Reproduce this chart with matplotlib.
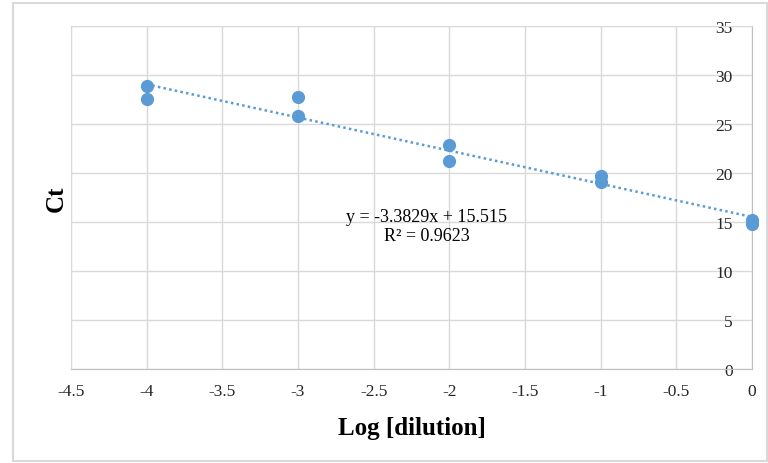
import matplotlib.pyplot as plt
from matplotlib.patches import Rectangle

# qPCR standard curve: Ct vs log dilution (two replicates per dilution)
log_dilution = [-4, -4, -3, -3, -2, -2, -1, -1, 0, 0]
ct_values = [28.9, 27.55, 27.8, 25.8, 22.85, 21.25, 19.65, 19.05, 15.2, 14.75]

# trendline shown on the chart
slope = -3.3829
intercept = 15.515
r_squared = 0.9623
trend_x = [-4, 0]

x_ticks = [-4.5, -4, -3.5, -3, -2.5, -2, -1.5, -1, -0.5, 0]
y_ticks = [0, 5, 10, 15, 20, 25, 30, 35]

blue = "#5B9BD5"
grid_gray = "#d9d9d9"

plt.rcParams["font.family"] = ["Liberation Serif", "DejaVu Serif"]

fig = plt.figure(figsize=(7.68, 4.64), dpi=100)
ax = fig.add_axes([71 / 768, 1 - 370 / 464, (752 - 71) / 768, (370 - 27) / 464])

# chart border
fig.patches.append(Rectangle((13 / 768, 2 / 464), 754 / 768, 458 / 464,
                             transform=fig.transFigure, fill=False,
                             edgecolor=grid_gray, linewidth=1.5))

trend_y = [slope * x + intercept for x in trend_x]
ax.plot(trend_x, trend_y, color=blue, linewidth=1.8, linestyle=(0, (1, 1.3)), zorder=2)
ax.plot(log_dilution, ct_values, "o", color=blue, markersize=8.5, clip_on=False, zorder=3)

ax.set_xlim(-4.5, 0)
ax.set_ylim(0, 35)
ax.set_xticks(x_ticks)
ax.set_xticklabels([f"{t:g}" for t in x_ticks])
ax.set_yticks(y_ticks)

ax.grid(True, color=grid_gray, linewidth=1)
ax.set_axisbelow(True)
for side in ["left", "top"]:
    ax.spines[side].set_color(grid_gray)
for side in ["bottom", "right"]:
    ax.spines[side].set_color("#bfbfbf")

ax.yaxis.tick_right()
ax.tick_params(axis="y", length=0, pad=-14, labelsize=12.5, labelcolor="#262626")
ax.tick_params(axis="x", length=0, pad=10, labelsize=12.5, labelcolor="#262626")
for lbl in ax.get_yticklabels():
    lbl.set_horizontalalignment("right")

ax.set_xlabel("Log [dilution]", fontsize=18, fontweight="bold", labelpad=12)
ax.set_ylabel("Ct", fontsize=18, fontweight="bold", labelpad=2)

ax.text(-2.15, 14.6, f"y = {slope}x + {intercept}\nR² = {r_squared}",
        ha="center", va="center", fontsize=13, linespacing=1.1)

fig.savefig("out.png", dpi=100)
